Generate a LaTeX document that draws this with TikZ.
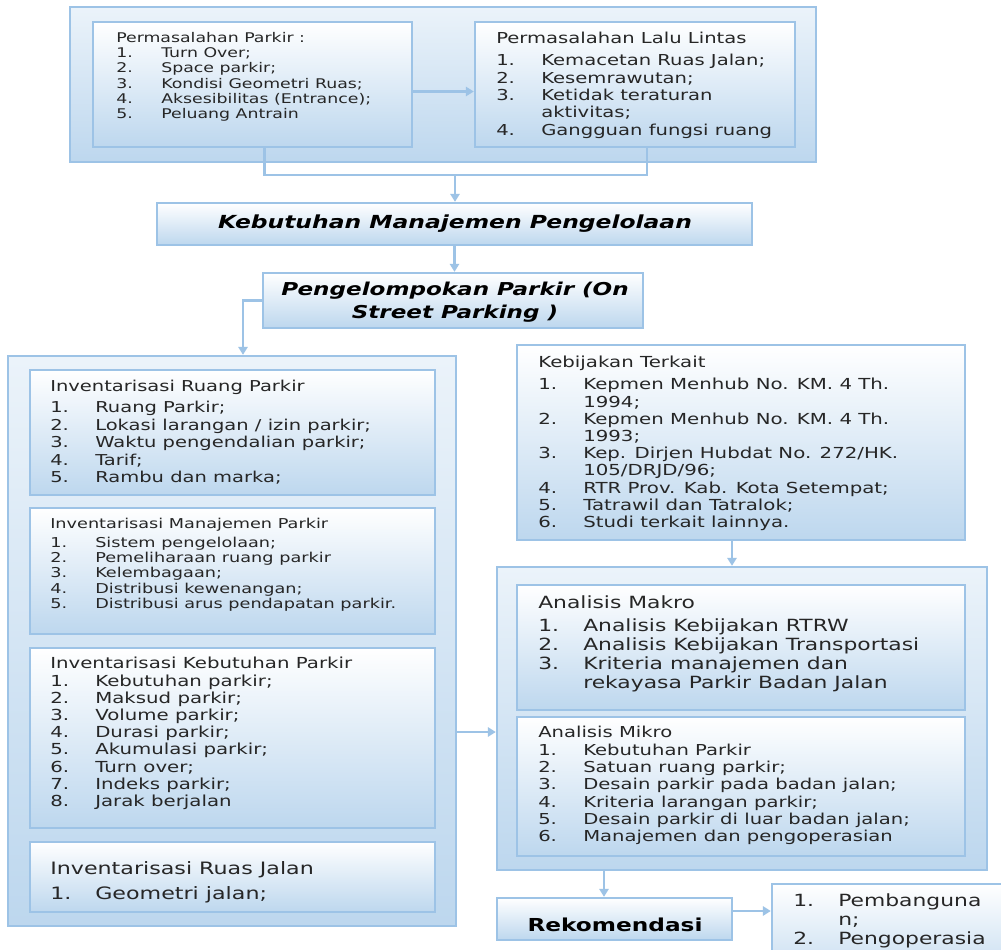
\documentclass[tikz,border=0pt]{standalone}
\usepackage{fontspec}
\setmainfont{DejaVu Sans}[FakeStretch=1.3]
\usetikzlibrary{arrows.meta,positioning,calc,fit}
\definecolor{edgeblue}{RGB}{157,195,230}
\definecolor{fillblue}{RGB}{189,215,238}
\newlength{\numw}
\setlength{\numw}{33.75pt}
\newcommand{\itm}[2]{\makebox[\numw][l]{#1}#2}
\newcommand{\cont}[1]{\hspace*{\numw}#1}

\begin{document}
\begin{tikzpicture}[
  x=0.75pt, y=-0.75pt,
  frame/.style={draw=edgeblue, line width=1.8pt, top color=fillblue!30, bottom color=fillblue, inner sep=0pt},
  inbox/.style={draw=edgeblue, line width=1.8pt, top color=white, bottom color=fillblue, inner sep=0pt},
  txt/.style={anchor=north west, inner sep=0pt, align=left, text=black!85},
  head/.style={inner sep=0pt, align=center, text=black, font=\fontsize{13.5}{17.25}\selectfont\bfseries\itshape},
  arr/.style={-{Triangle[length=6pt,width=7pt]}, draw=edgeblue, line width=1.6pt},
  link/.style={draw=edgeblue, line width=1.6pt}
]
\clip (0,0) rectangle (1001,950);
\fill[white] (0,0) rectangle (1001,950);

% frames
\node[frame, fit={(70,7) (816,162)}] (frameTop) {};
\node[frame, fit={(8,356) (456,926)}] (frameLeft) {};
\node[frame, fit={(497,567) (987,870)}] (frameAn) {};

% boxes
\node[inbox, fit={(93,22) (412,147)}] (perParkir) {};
\node[inbox, fit={(475,22) (795,147)}] (perLalin) {};
\node[inbox, fit={(157,203) (752,245)}] (kebMan) {};
\node[inbox, fit={(263,273) (643,328)}] (pengel) {};
\node[inbox, fit={(30,370) (435,495)}] (ruangP) {};
\node[inbox, fit={(30,508) (435,634)}] (manP) {};
\node[inbox, fit={(30,648) (435,828)}] (kebP) {};
\node[inbox, fit={(30,842) (435,912)}] (ruasJ) {};
\node[inbox, fit={(517,345) (965,540)}] (kebij) {};
\node[inbox, fit={(517,585) (965,710)}] (makro) {};
\node[inbox, fit={(517,717) (965,856)}] (mikro) {};
\node[inbox, fit={(497,898) (732,940)}] (rekom) {};
\node[inbox, fit={(772,884) (1030,990)}] (tindak) {};

% texts
\node[head] (tKebMan) at (455,224) {Kebutuhan Manajemen Pengelolaan};
\node[head, font=\fontsize{13.3}{17.25}\selectfont\bfseries\itshape] (tPengel) at (455,302) {Pengelompokan Parkir (On\\Street Parking )};
\node[head, font=\fontsize{13.4}{16}\selectfont\bfseries] (tRekom) at (615,925) {Rekomendasi};
\node[txt, font=\fontsize{10}{11.5}\selectfont] (tPerParkir) at (116,31.6) {Permasalahan Parkir :\\
  \itm{1.}{Turn Over;}\\
  \itm{2.}{Space parkir;}\\
  \itm{3.}{Kondisi Geometri Ruas;}\\
  \itm{4.}{Aksesibilitas (Entrance);}\\
  \itm{5.}{Peluang Antrain}};
\node[txt, font=\fontsize{11.3}{13}\selectfont] (tPerLalin) at (496,32) {Permasalahan Lalu Lintas\\[3.5pt]
  \itm{1.}{Kemacetan Ruas Jalan;}\\
  \itm{2.}{Kesemrawutan;}\\
  \itm{3.}{Ketidak teraturan}\\
  \cont{aktivitas;}\\
  \itm{4.}{Gangguan fungsi ruang}};
\node[txt, font=\fontsize{11.25}{13.1}\selectfont] (tRuangP) at (50,380) {Inventarisasi Ruang Parkir\\[2.6pt]
  \itm{1.}{Ruang Parkir;}\\
  \itm{2.}{Lokasi larangan / izin parkir;}\\
  \itm{3.}{Waktu pengendalian parkir;}\\
  \itm{4.}{Tarif;}\\
  \itm{5.}{Rambu dan marka;}};
\node[txt, font=\fontsize{10.2}{11.5}\selectfont] (tManP) at (50,517.6) {Inventarisasi Manajemen Parkir\\[2.8pt]
  \itm{1.}{Sistem pengelolaan;}\\
  \itm{2.}{Pemeliharaan ruang parkir}\\
  \itm{3.}{Kelembagaan;}\\
  \itm{4.}{Distribusi kewenangan;}\\
  \itm{5.}{Distribusi arus pendapatan parkir.}};
\node[txt, font=\fontsize{11.4}{12.9}\selectfont] (tKebP) at (50,657) {Inventarisasi Kebutuhan Parkir\\
  \itm{1.}{Kebutuhan parkir;}\\
  \itm{2.}{Maksud parkir;}\\
  \itm{3.}{Volume parkir;}\\
  \itm{4.}{Durasi parkir;}\\
  \itm{5.}{Akumulasi parkir;}\\
  \itm{6.}{Turn over;}\\
  \itm{7.}{Indeks parkir;}\\
  \itm{8.}{Jarak berjalan}};
\node[txt, font=\fontsize{12.8}{18.75}\selectfont] (tRuasJ) at (50,861) {Inventarisasi Ruas Jalan\\
  \itm{1.}{Geometri jalan;}};
\node[txt, font=\fontsize{11.4}{12.9}\selectfont] (tKebij) at (538,356) {Kebijakan Terkait\\[3.6pt]
  \itm{1.}{Kepmen Menhub No. KM. 4 Th.}\\
  \cont{1994;}\\
  \itm{2.}{Kepmen Menhub No. KM. 4 Th.}\\
  \cont{1993;}\\
  \itm{3.}{Kep. Dirjen Hubdat No. 272/HK.}\\
  \cont{105/DRJD/96;}\\
  \itm{4.}{RTR Prov. Kab. Kota Setempat;}\\
  \itm{5.}{Tatrawil dan Tatralok;}\\
  \itm{6.}{Studi terkait lainnya.}};
\node[txt, font=\fontsize{12.6}{14.25}\selectfont] (tMakro) at (538,595) {Analisis Makro\\[3pt]
  \itm{1.}{Analisis Kebijakan RTRW}\\
  \itm{2.}{Analisis Kebijakan Transportasi}\\
  \itm{3.}{Kriteria manajemen dan}\\
  \cont{rekayasa Parkir Badan Jalan}};
\node[txt, font=\fontsize{11.3}{13}\selectfont] (tMikro) at (538,726) {Analisis Mikro\\
  \itm{1.}{Kebutuhan Parkir}\\
  \itm{2.}{Satuan ruang parkir;}\\
  \itm{3.}{Desain parkir pada badan jalan;}\\
  \itm{4.}{Kriteria larangan parkir;}\\
  \itm{5.}{Desain parkir di luar badan jalan;}\\
  \itm{6.}{Manajemen dan pengoperasian}};
\node[txt, font=\fontsize{12.6}{14.25}\selectfont] (tTindak) at (793,893) {\itm{1.}{Pembanguna}\\
  \cont{n;}\\
  \itm{2.}{Pengoperasia}};

% connectors
\coordinate (jTop) at (455,175);
\draw[arr] ($(perParkir.east)+(0,7)$) -- ($(perLalin.west)+(0,7)$);
\draw[link] ($(perParkir.south)+(12,0)$) |- (jTop);
\draw[link] ($(perLalin.south)+(12,0)$) |- (jTop);
\draw[arr] (jTop) -- (jTop |- kebMan.north);
\draw[arr] (kebMan.south) -- (kebMan.south |- pengel.north);
\draw[arr] (pengel.west) -| ($(frameLeft.north)+(11,0)$);
\draw[arr] ($(frameLeft.east)+(0,91)$) coordinate (aL) -- (aL -| frameAn.west);
\draw[arr] ($(kebij.south)+(-9,0)$) coordinate (aK) -- (aK |- frameAn.north);
\draw[arr] ($(frameAn.south)+(-138,0)$) coordinate (aR) -- (aR |- rekom.north);
\draw[arr] ($(rekom.east)+(0,-8)$) coordinate (aT) -- (aT -| tindak.west);
\end{tikzpicture}
\end{document}
